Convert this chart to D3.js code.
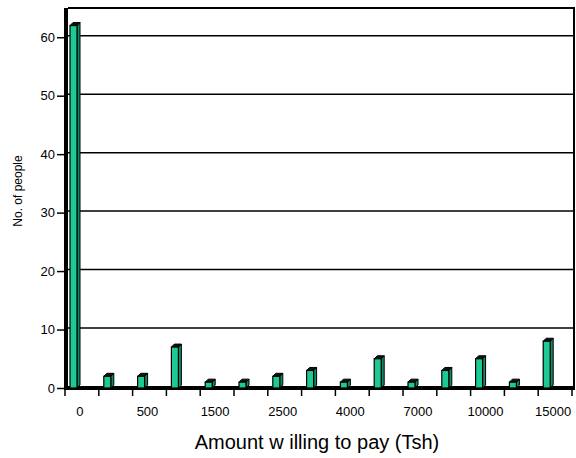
<!DOCTYPE html>
<html>
<head>
<meta charset="utf-8">
<script src="https://cdn.jsdelivr.net/npm/d3@7"></script>
<style>
  body { margin: 0; background: #fff; }
  text { font-family: "Liberation Sans", Arial, sans-serif; fill: #000; }
</style>
</head>
<body>
<svg id="chart" width="576" height="458"></svg>
<script>
// amounts (Tsh) - only every other one is labelled on the axis
const amounts = ['0', '200', '500', '1000', '1500', '2000', '2500', '3000', '4000', '5000', '7000', '8000', '10000', '12000', '15000']
const people = [62, 2, 2, 7, 1, 1, 2, 3, 1, 5, 1, 3, 5, 1, 8]
const yTicks = [0, 10, 20, 30, 40, 50, 60]

const svg = d3.select('#chart')
const plotLeft = 65, plotRight = 572, plotTop = 8, plotBottom = 388
const depth = 3

const x = d3.scaleBand().domain(amounts).range([plotLeft, plotRight]).padding(0)
const y = d3.scaleLinear().domain([0, 65]).range([plotBottom, plotTop])

// back wall gridlines
svg.append('g')
    .selectAll('line')
    .data(yTicks.filter(d => d > 0))
    .join('line')
    .attr('x1', plotLeft + depth).attr('x2', 575)
    .attr('y1', d => y(d) - 1.5).attr('y2', d => y(d) - 1.5)
    .attr('stroke', '#000').attr('stroke-width', 1.5)

// frame top + right
svg.append('path')
    .attr('d', `M${plotLeft + depth},${plotTop} H574 V${plotBottom}`)
    .attr('fill', 'none').attr('stroke', '#000').attr('stroke-width', 2)

// left wall and floor
svg.append('rect').attr('x', plotLeft - 1).attr('y', plotTop).attr('width', 4).attr('height', plotBottom - plotTop + 2).attr('fill', '#000')
svg.append('rect').attr('x', plotLeft - 1).attr('y', plotBottom - 2).attr('width', 575 - plotLeft + 1).attr('height', 4).attr('fill', '#000')

// y axis
const yAxis = svg.append('g')
    .attr('transform', `translate(${plotLeft},0)`)
    .call(d3.axisLeft(y).tickValues(yTicks).tickSize(8).tickPadding(2))
yAxis.select('.domain').remove()
yAxis.selectAll('line').attr('stroke', '#000').attr('stroke-width', 1.5)
yAxis.selectAll('text').style('font-size', '13px').attr('font-family', null)

// x axis ticks on the category boundaries
const bounds = amounts.map(a => x(a)).concat([plotRight])
svg.append('g')
    .selectAll('line')
    .data(bounds)
    .join('line')
    .attr('x1', d => d).attr('x2', d => d)
    .attr('y1', plotBottom).attr('y2', plotBottom + 8)
    .attr('stroke', '#000').attr('stroke-width', 1.5)

svg.append('g')
    .selectAll('text')
    .data(amounts.filter((a, i) => i % 2 == 0))
    .join('text')
    .attr('x', d => x(d) + x.bandwidth() / 2 - 2)
    .attr('y', 416)
    .attr('text-anchor', 'middle')
    .style('font-size', '13px')
    .text(d => d)

// 3d bars
const bw = 7
const bars = svg.append('g')
    .selectAll('g')
    .data(amounts.map((a, i) => ({ amount: a, value: people[i] })))
    .join('g')

bars.append('path')  // side
    .attr('d', d => {
        const x0 = x(d.amount) + 5, y0 = y(d.value)
        return `M${x0 + bw},${y0} L${x0 + bw + depth},${y0 - depth} L${x0 + bw + depth},${plotBottom - depth} L${x0 + bw},${plotBottom} Z`
    })
    .attr('fill', '#0f8a64').attr('stroke', '#000').attr('stroke-width', 1)

bars.append('path')  // top
    .attr('d', d => {
        const x0 = x(d.amount) + 5, y0 = y(d.value)
        return `M${x0},${y0} L${x0 + depth},${y0 - depth} L${x0 + bw + depth},${y0 - depth} L${x0 + bw},${y0} Z`
    })
    .attr('fill', '#111').attr('stroke', '#000').attr('stroke-width', 1)

bars.append('rect')  // front
    .attr('x', d => x(d.amount) + 5)
    .attr('y', d => y(d.value))
    .attr('width', bw)
    .attr('height', d => plotBottom - y(d.value))
    .attr('fill', '#1dc995').attr('stroke', '#000').attr('stroke-width', 1.2)

// titles
svg.append('text')
    .attr('x', 317).attr('y', 449)
    .attr('text-anchor', 'middle')
    .style('font-size', '20px')
    .text('Amount w illing to pay (Tsh)')

svg.append('text')
    .attr('transform', 'translate(22,191) rotate(-90)')
    .attr('text-anchor', 'middle')
    .style('font-size', '12px')
    .text('No. of people')
</script>
</body>
</html>
